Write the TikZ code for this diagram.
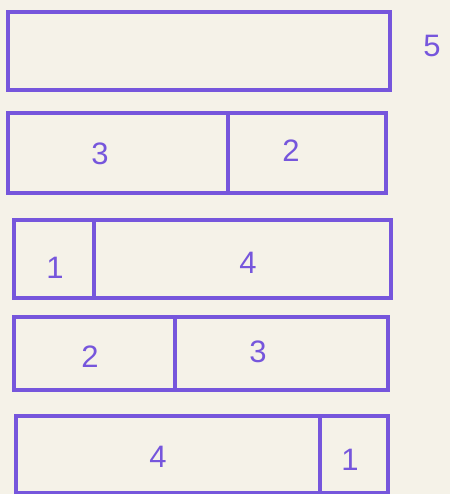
\documentclass[tikz,border=0pt]{standalone}
\usepackage{fontspec}
\setmainfont{Liberation Sans}
\definecolor{ink}{HTML}{7656DC}
\definecolor{paper}{HTML}{F5F2E8}
\begin{document}
\begin{tikzpicture}[x=1pt,y=-1pt,
  cell/.style={draw=ink,line width=3.4pt,inner sep=0pt},
  digit/.style={text=ink,font=\fontsize{31}{31}\selectfont,inner sep=0pt}]
\fill[paper] (0,0) rectangle (450,494);
\useasboundingbox (0,0) rectangle (450,494);
% bar 1
\node[cell,minimum width=382pt,minimum height=78pt] (b1) at (199,51) {};
\node[digit] (l5) at (432,46) {5};
% bar 2
\node[cell,minimum width=220pt,minimum height=80pt] (b2a) at (118,153) {};
\node[cell,minimum width=158pt,minimum height=80pt] (b2b) at (307,153) {};
\node[digit] (l3a) at (100,154) {3};
\node[digit] (l2a) at (291,151) {2};
% bar 3
\node[cell,minimum width=80pt,minimum height=78pt] (b3a) at (54,259) {};
\node[cell,minimum width=297pt,minimum height=78pt] (b3b) at (242.5,259) {};
\node[digit] (l1a) at (55,268) {1};
\node[digit] (l4a) at (248,263) {4};
% bar 4
\node[cell,minimum width=161pt,minimum height=73pt] (b4a) at (94.5,353.5) {};
\node[cell,minimum width=213pt,minimum height=73pt] (b4b) at (281.5,353.5) {};
\node[digit] (l2b) at (90,357) {2};
\node[digit] (l3b) at (258,352) {3};
% bar 5
\node[cell,minimum width=304pt,minimum height=77pt] (b5a) at (168,454.5) {};
\node[cell,minimum width=68pt,minimum height=77pt] (b5b) at (354,454.5) {};
\node[digit] (l4b) at (158,457) {4};
\node[digit] (l1b) at (350,460) {1};
\end{tikzpicture}
\end{document}
